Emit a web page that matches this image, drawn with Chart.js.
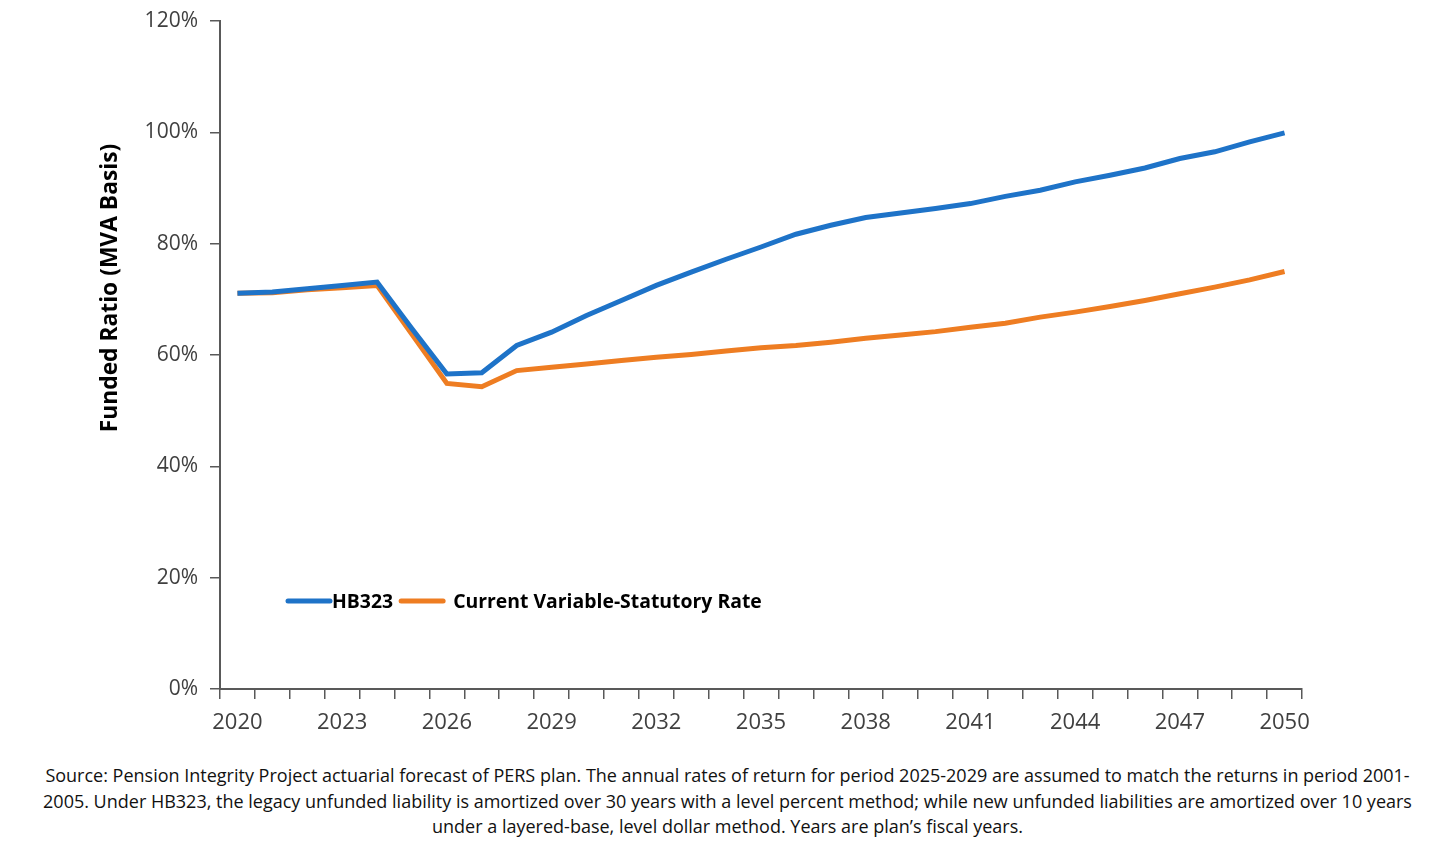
<!DOCTYPE html>
<html>
<head>
<meta charset="utf-8">
<title>Funded Ratio</title>
<script src="https://cdn.jsdelivr.net/npm/chart.js@4.4.1/dist/chart.umd.min.js"></script>
<style>
  body { margin: 0; background: #fff; width: 1430px; height: 862px; overflow: hidden; font-family: "Open Sans", Lato, sans-serif; }
  #wrap { position: relative; width: 1430px; height: 745px; }
  .note { margin-top: 18px; padding-left: 25px; text-align: center; font-size: 18px; line-height: 25.5px; color: #111; white-space: nowrap; }
</style>
</head>
<body>
<div id="wrap"><canvas id="ratioChart"></canvas></div>
<div class="note">
  Source: Pension Integrity Project actuarial forecast of PERS plan. The annual rates of return for period 2025-2029 are assumed to match the returns in period 2001-<br>
  2005. Under HB323, the legacy unfunded liability is amortized over 30 years with a level percent method; while new unfunded liabilities are amortized over 10 years<br>
  under a layered-base, level dollar method. Years are plan’s fiscal years.
</div>
<script>
// fiscal years on the x axis
const years = ['2020', '2021', '2022', '2023', '2024', '2025', '2026', '2027', '2028', '2029',
  '2030', '2031', '2032', '2033', '2034', '2035', '2036', '2037', '2038', '2039',
  '2040', '2041', '2042', '2043', '2044', '2045', '2046', '2047', '2048', '2049', '2050'];

// funded ratio (%)
const hb323 = [71.1, 71.3, 71.9, 72.5, 73.1, 64.7, 56.6, 56.8, 61.7, 64.1,
  67.1, 69.8, 72.5, 74.9, 77.2, 79.4, 81.7, 83.3, 84.7, 85.5,
  86.3, 87.2, 88.5, 89.6, 91.1, 92.3, 93.6, 95.3, 96.5, 98.3, 99.9];
const currentRate = [71.1, 71.2, 71.7, 72.1, 72.5, 63.7, 54.9, 54.3, 57.2, 57.8,
  58.4, 59.0, 59.6, 60.1, 60.7, 61.3, 61.7, 62.3, 63.0, 63.6,
  64.2, 65.0, 65.7, 66.8, 67.7, 68.7, 69.8, 71.0, 72.2, 73.5, 75.0];

const seriesNames = ['HB323', 'Current Variable-Statutory Rate'];
const yTitle = 'Funded Ratio (MVA Basis)';

const axisColor = '#595959';
const tickColor = '#404040';

// legend drawn inside the plot area, like the original
const insideLegend = {
  id: 'insideLegend',
  afterDraw(chart) {
    const ctx = chart.ctx;
    const area = chart.chartArea;
    const y = area.bottom - 88;
    let x = area.left + 68;
    ctx.save();
    ctx.font = 'bold 19.4px "Open Sans"';
    ctx.textBaseline = 'middle';
    chart.data.datasets.forEach((ds, i) => {
      ctx.strokeStyle = ds.borderColor;
      ctx.lineWidth = 5;
      ctx.lineCap = 'round';
      ctx.beginPath();
      ctx.moveTo(x, y);
      ctx.lineTo(x + 42, y);
      ctx.stroke();
      x += i === 0 ? 44 : 52;
      ctx.fillStyle = '#000';
      ctx.fillText(ds.label, x, y + 1);
      x += ctx.measureText(ds.label).width + 8;
    });
    ctx.restore();
  }
};

// y axis title sits above centre in the original, so it is drawn here
const sideTitle = {
  id: 'sideTitle',
  afterDraw(chart) {
    const ctx = chart.ctx;
    ctx.save();
    ctx.translate(111, 288);
    ctx.rotate(-Math.PI / 2);
    ctx.font = 'bold 22.8px "Open Sans"';
    ctx.fillStyle = '#000';
    ctx.textAlign = 'center';
    ctx.textBaseline = 'middle';
    ctx.fillText(yTitle, 0, 0);
    ctx.restore();
  }
};

const ctx = document.getElementById('ratioChart').getContext('2d');
new Chart(ctx, {
  type: 'line',
  data: {
    labels: years,
    datasets: [
      {
        label: seriesNames[0],
        data: hb323,
        borderColor: '#1E73C8',
        borderWidth: 5,
        pointRadius: 0,
        tension: 0,
        fill: false
      },
      {
        label: seriesNames[1],
        data: currentRate,
        borderColor: '#EE7D22',
        borderWidth: 5,
        pointRadius: 0,
        tension: 0,
        fill: false
      }
    ]
  },
  options: {
    responsive: true,
    maintainAspectRatio: false,
    animation: false,
    layout: { padding: { top: 21, right: 128, bottom: 0, left: 0 } },
    scales: {
      x: {
        type: 'category',
        offset: true,
        grid: { offset: true, drawOnChartArea: false, tickLength: 10, color: axisColor, lineWidth: 1.5 },
        border: { color: axisColor, width: 2 },
        ticks: {
          autoSkip: false,
          maxRotation: 0,
          padding: 11,
          color: tickColor,
          font: { family: 'Open Sans', size: 22 },
          callback: function(value, index) {
            return index % 3 === 0 ? this.getLabelForValue(value) : '';
          }
        },
        afterFit: scale => { scale.height = 56; }
      },
      y: {
        min: 0,
        max: 120,
        grid: { drawOnChartArea: false, tickLength: 10, color: axisColor, lineWidth: 1.5 },
        border: { color: axisColor, width: 2 },
        ticks: {
          stepSize: 20,
          padding: 12,
          color: tickColor,
          font: { family: 'Open Sans', size: 21 },
          callback: v => v + '%'
        },
        afterFit: scale => {
          scale.width = 220;
          scale.paddingTop = 0;
          scale.paddingBottom = 0;
        }
      }
    },
    plugins: {
      legend: { display: false },
      tooltip: { enabled: false }
    }
  },
  plugins: [insideLegend, sideTitle]
});
</script>
</body>
</html>
